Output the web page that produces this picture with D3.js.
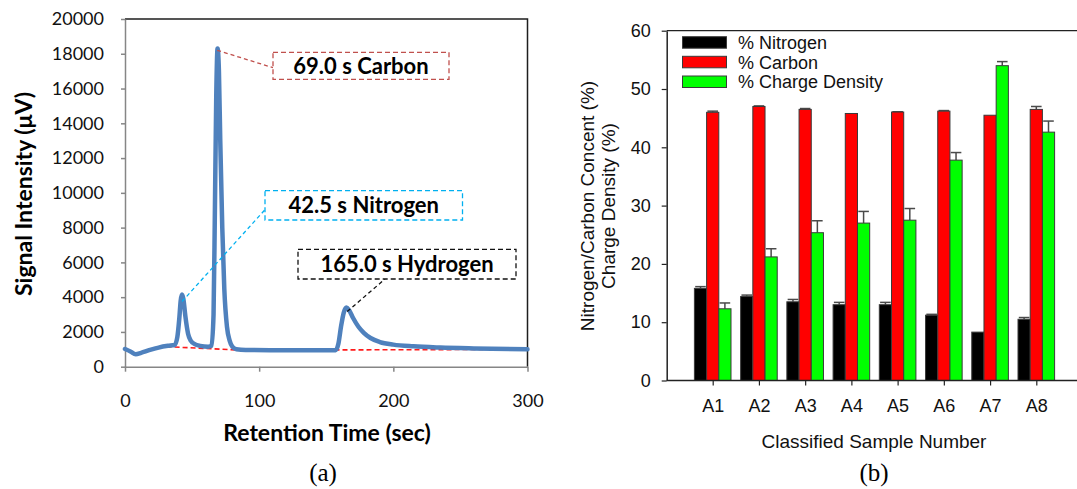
<!DOCTYPE html>
<html>
<head>
<meta charset="utf-8">
<script src="https://cdn.jsdelivr.net/npm/d3@7"></script>
<style>
  html, body { margin: 0; padding: 0; background: #fff; }
  svg { display: block; }
</style>
</head>
<body>
<svg id="chart" width="1077" height="489"></svg>
<script>
// ---------- (a) chromatogram ----------
const retentionTime = [0, 4, 8, 12, 18, 25, 32, 37, 39, 40.5, 41.5, 42.5, 43.5, 45, 47, 49, 52, 56, 62,
  64.5, 66, 67, 68, 69, 70, 71, 72.5, 74, 76, 78, 80, 83, 90, 120, 157,
  159, 161, 163, 165, 167, 170, 174, 178, 183, 190, 200, 215, 235, 260, 300];
const signal = [1020, 880, 720, 800, 950, 1100, 1200, 1250, 1700, 2800, 3800, 4150, 3900, 2900, 1900, 1500, 1300, 1200, 1150,
  1200, 3000, 9000, 15500, 18300, 17000, 13000, 8000, 4500, 2300, 1500, 1150, 1000, 960, 950, 950,
  1300, 2300, 3100, 3400, 3250, 2800, 2300, 1950, 1650, 1420, 1270, 1170, 1100, 1050, 1000];
const signalTicks = [0, 2000, 4000, 6000, 8000, 10000, 12000, 14000, 16000, 18000, 20000];
const timeTicks = [0, 100, 200, 300];

// integration baseline under the peaks
const baselineTime = [31, 88, 267];
const baselineSignal = [1150, 950, 990];

// peak callouts
const peakLabels = ["69.0 s Carbon", "42.5 s Nitrogen", "165.0 s Hydrogen"];
const peakTime = [68.7, 42.5, 165.6];
const peakSignal = [18200, 3750, 3170];

// ---------- (b) elemental analysis ----------
const samples = ["A1", "A2", "A3", "A4", "A5", "A6", "A7", "A8"];
const nitrogen = [15.8, 14.4, 13.5, 13.0, 13.0, 11.2, 8.3, 10.5];
const nitrogenErr = [0.3, 0.25, 0.4, 0.4, 0.4, 0.15, 0, 0.3];
const carbon = [46.0, 47.0, 46.5, 45.8, 46.05, 46.2, 45.5, 46.5];
const carbonErr = [0.2, 0.1, 0.15, 0, 0.05, 0.1, 0, 0.5];
const chargeDensity = [12.3, 21.2, 25.35, 27.0, 27.5, 37.8, 54.0, 42.6];
const chargeDensityErr = [1.0, 1.4, 2.05, 2.0, 2.0, 1.3, 0.7, 1.9];
const percentTicks = [0, 10, 20, 30, 40, 50, 60];
const seriesNames = ["% Nitrogen", "% Carbon", "% Charge Density"];

// ---------- layout ----------
const svg = d3.select("#chart");
const sansA = "Lato, 'Open Sans', sans-serif";
const sansB = "'Liberation Sans', Arial, sans-serif";
const serif = "'Liberation Serif', 'Times New Roman', serif";

// ======== panel (a) ========
const A = { left: 125, right: 527.5, top: 19, bottom: 366.7 };
const xA = d3.scaleLinear().domain([0, 300]).range([A.left, A.right]);
const yA = d3.scaleLinear().domain([0, 20000]).range([A.bottom, A.top]);
const gA = svg.append("g");

// top and right frame
gA.append("path")
  .attr("d", `M${A.left},${A.top}H${A.right}V${A.bottom}`)
  .attr("fill", "none").attr("stroke", "#1e1e1e").attr("stroke-width", 1.5);

const yAxisA = gA.append("g")
  .attr("transform", `translate(${A.left},0)`)
  .call(d3.axisLeft(yA).tickValues(signalTicks).tickSize(4).tickSizeOuter(0).tickPadding(17).tickFormat(d3.format("d")));
const xAxisA = gA.append("g")
  .attr("transform", `translate(0,${A.bottom})`)
  .call(d3.axisBottom(xA).tickValues(timeTicks).tickSize(5).tickSizeOuter(0).tickPadding(23).tickFormat(d3.format("d")));
[yAxisA, xAxisA].forEach(ax => {
  ax.select(".domain").attr("stroke", "#868686").attr("stroke-width", 1.5);
  ax.selectAll(".tick line").attr("stroke", "#868686").attr("stroke-width", 1.5);
  ax.selectAll(".tick text").attr("font-family", sansA).attr("font-size", 18).attr("fill", "#111");
});

// baseline
gA.append("path")
  .datum(baselineTime.map((t, i) => [t, baselineSignal[i]]))
  .attr("d", d3.line().x(d => xA(d[0])).y(d => yA(d[1])))
  .attr("fill", "none").attr("stroke", "#ff1a1a").attr("stroke-width", 1.6)
  .attr("stroke-dasharray", "5,3");

// signal trace
gA.append("path")
  .datum(retentionTime.map((t, i) => [t, signal[i]]))
  .attr("d", d3.line().x(d => xA(d[0])).y(d => yA(d[1])).curve(d3.curveMonotoneX))
  .attr("fill", "none").attr("stroke", "#4f81bd").attr("stroke-width", 4.5)
  .attr("stroke-linejoin", "round").attr("stroke-linecap", "round");

// callout boxes: [x0, y0, x1, y1], leader end point, colour
const callouts = [
  { box: [273, 52.3, 449, 79.3], end: [273, 67.7], color: "#c0504d" },
  { box: [265, 190.7, 462.5, 220], end: [266.5, 208], color: "#00b0f0" },
  { box: [298, 249.3, 516, 279], end: [385, 279], color: "#111" }
];
callouts.forEach((c, i) => {
  const [x0, y0, x1, y1] = c.box;
  gA.append("line")
    .attr("x1", xA(peakTime[i])).attr("y1", yA(peakSignal[i]))
    .attr("x2", c.end[0]).attr("y2", c.end[1])
    .attr("stroke", c.color).attr("stroke-width", 1.3).attr("stroke-dasharray", "4,3");
  gA.append("rect")
    .attr("x", x0).attr("y", y0).attr("width", x1 - x0).attr("height", y1 - y0)
    .attr("fill", "#fff").attr("stroke", c.color).attr("stroke-width", 1.3)
    .attr("stroke-dasharray", "5,3");
  gA.append("text")
    .attr("x", (x0 + x1) / 2).attr("y", (y0 + y1) / 2).attr("dy", "0.36em")
    .attr("text-anchor", "middle")
    .attr("font-family", sansA).attr("font-weight", "bold").attr("font-size", 22)
    .attr("fill", "#000").text(peakLabels[i]);
});

// axis titles
gA.append("text")
  .attr("transform", "translate(24,194) rotate(-90)")
  .attr("dy", "0.36em").attr("text-anchor", "middle")
  .attr("font-family", sansA).attr("font-weight", "bold").attr("font-size", 23)
  .text("Signal Intensity (\u03bcV)");
gA.append("text")
  .attr("x", 327).attr("y", 433).attr("dy", "0.36em").attr("text-anchor", "middle")
  .attr("font-family", sansA).attr("font-weight", "bold").attr("font-size", 23)
  .text("Retention Time (sec)");
gA.append("text")
  .attr("x", 323).attr("y", 473).attr("dy", "0.33em").attr("text-anchor", "middle")
  .attr("font-family", serif).attr("font-size", 25).text("(a)");

// ======== panel (b) ========
const B = { left: 666.7, top: 30.7, bottom: 380.5 };
const xB = d3.scalePoint().domain(samples).range([712.7, 1036.3]);
const stepB = xB.step();
const rightB = xB(samples[samples.length - 1]) + stepB;
const yB = d3.scaleLinear().domain([0, 60]).range([B.bottom, B.top]);
const gB = svg.append("g");

// top frame line
gB.append("line")
  .attr("x1", B.left).attr("x2", rightB).attr("y1", B.top).attr("y2", B.top)
  .attr("stroke", "#222").attr("stroke-width", 1.3);

const barW = 12.2;
const series = [
  { values: nitrogen, err: nitrogenErr, fill: "#000000", offset: -1.5 },
  { values: carbon, err: carbonErr, fill: "#ff0000", offset: -0.5 },
  { values: chargeDensity, err: chargeDensityErr, fill: "#00ff00", offset: 0.5 }
];
series.forEach(s => {
  const g = gB.append("g");
  // error bars (upper only)
  samples.forEach((name, i) => {
    if (s.err[i] <= 0) return;
    const cx = xB(name) + (s.offset + 0.5) * barW;
    const top = yB(s.values[i] + s.err[i]);
    g.append("line").attr("x1", cx).attr("x2", cx)
      .attr("y1", yB(s.values[i])).attr("y2", top)
      .attr("stroke", "#4a4a4a").attr("stroke-width", 1.5);
    g.append("line").attr("x1", cx - 5.3).attr("x2", cx + 5.3)
      .attr("y1", top).attr("y2", top)
      .attr("stroke", "#4a4a4a").attr("stroke-width", 1.5);
  });
  g.selectAll("rect").data(samples).join("rect")
    .attr("x", d => xB(d) + s.offset * barW)
    .attr("y", (d, i) => yB(s.values[i]))
    .attr("width", barW)
    .attr("height", (d, i) => yB(0) - yB(s.values[i]))
    .attr("fill", s.fill).attr("stroke", "#3a3a3a").attr("stroke-width", 1);
});

const yAxisB = gB.append("g")
  .attr("transform", `translate(${B.left},0)`)
  .call(d3.axisLeft(yB).tickValues(percentTicks).tickSize(5).tickSizeOuter(0).tickPadding(11));
const xAxisB = gB.append("g")
  .attr("transform", `translate(0,${B.bottom})`)
  .call(d3.axisBottom(xB).tickSize(5).tickSizeOuter(0).tickPadding(14));
xAxisB.select(".domain").attr("d", `M${B.left},0H${rightB}`);
[yAxisB, xAxisB].forEach(ax => {
  ax.select(".domain").attr("stroke", "#222").attr("stroke-width", 1.5);
  ax.selectAll(".tick line").attr("stroke", "#222").attr("stroke-width", 1.2);
  ax.selectAll(".tick text").attr("font-family", sansB).attr("font-size", 18).attr("fill", "#111");
});

// legend
const legendX = 682.5, legendY = [36.7, 56.3, 76];
seriesNames.forEach((name, i) => {
  gB.append("rect")
    .attr("x", legendX).attr("y", legendY[i]).attr("width", 44).attr("height", 11.5)
    .attr("fill", series[i].fill).attr("stroke", "#3a3a3a").attr("stroke-width", 1);
  gB.append("text")
    .attr("x", 738).attr("y", legendY[i] + 5.9).attr("dy", "0.36em")
    .attr("font-family", sansB).attr("font-size", 18).attr("fill", "#111")
    .text(name);
});

// axis titles
gB.append("text")
  .attr("transform", "translate(587,206) rotate(-90)")
  .attr("dy", "0.36em").attr("text-anchor", "middle")
  .attr("font-family", sansB).attr("font-size", 19).attr("fill", "#111")
  .text("Nitrogen/Carbon Concent (%)");
gB.append("text")
  .attr("transform", "translate(608.5,206) rotate(-90)")
  .attr("dy", "0.36em").attr("text-anchor", "middle")
  .attr("font-family", sansB).attr("font-size", 19).attr("fill", "#111")
  .text("Charge Density (%)");
gB.append("text")
  .attr("x", 874).attr("y", 440.7).attr("dy", "0.36em").attr("text-anchor", "middle")
  .attr("font-family", sansB).attr("font-size", 19).attr("fill", "#111")
  .text("Classified Sample Number");
gB.append("text")
  .attr("x", 874).attr("y", 473).attr("dy", "0.33em").attr("text-anchor", "middle")
  .attr("font-family", serif).attr("font-size", 25).text("(b)");
</script>
</body>
</html>
